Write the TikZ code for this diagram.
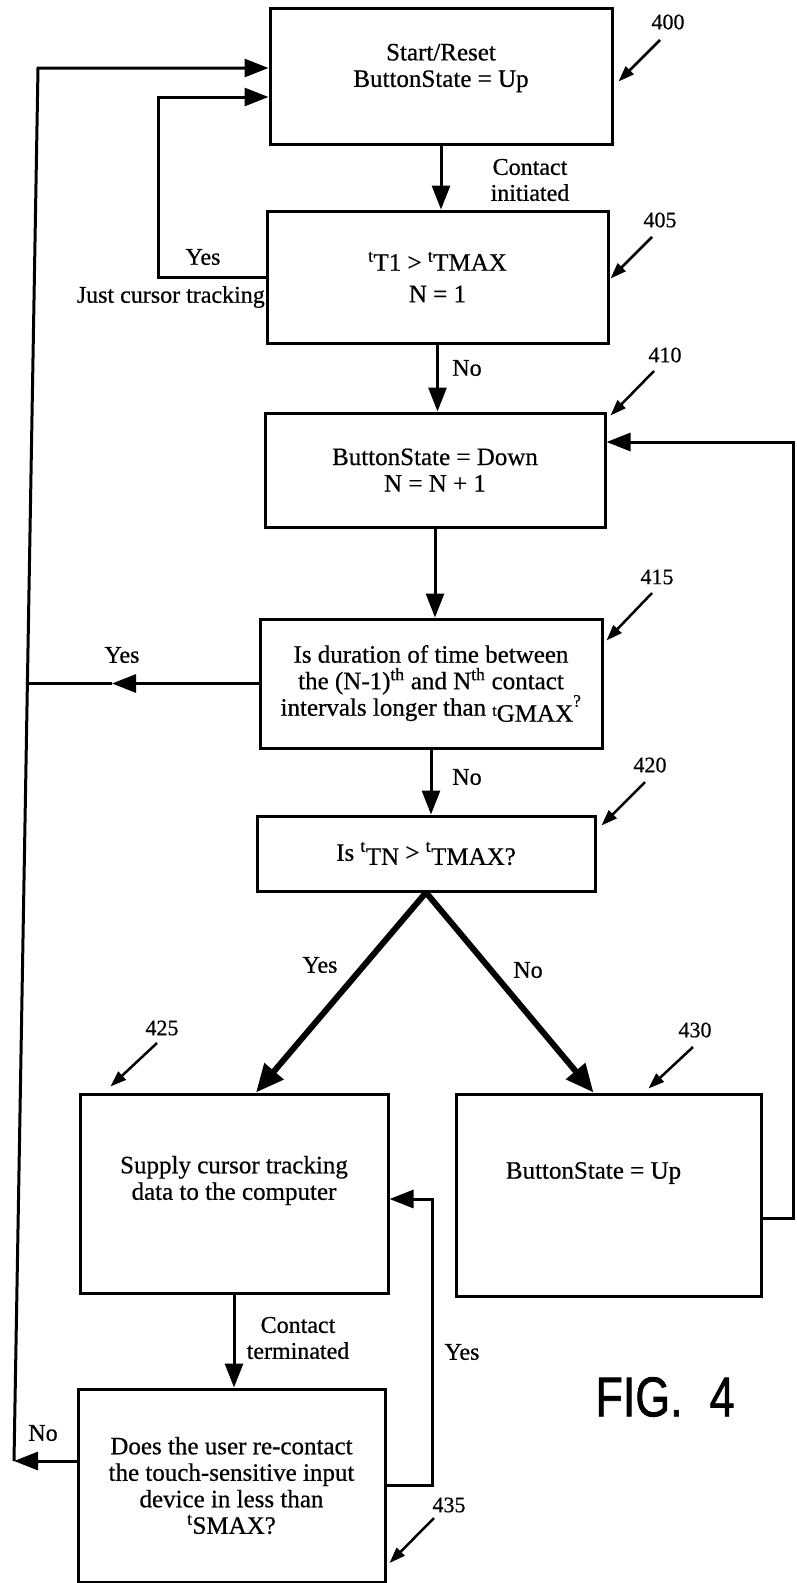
\documentclass[tikz,border=0pt]{standalone}
\usepackage{fontspec}
\setmainfont{Liberation Serif}[FakeBold=0.6]
\newfontfamily\figfont{Liberation Sans}[FakeBold=1.5]
\usepackage{graphicx}
\usetikzlibrary{arrows.meta,calc}
\newcommand\bxf{\fontsize{25}{26.5}\selectfont}
\newcommand\lbf{\fontsize{24}{26}\selectfont}
\newcommand\nmf{\fontsize{22}{22}\selectfont}
\tikzset{
  box/.style={draw, line width=3pt, inner sep=0pt, align=center, font=\bxf},
  boxtxt/.style={align=center, font=\bxf, inner sep=0pt},
  conn/.style={line width=3pt},
  arr/.style={conn, -{Triangle[length=24pt,width=18pt]}},
  thickarr/.style={line width=6pt, -{Triangle[length=28pt,width=24pt]}},
  lead/.style={line width=2.5pt, -{Triangle[length=16pt,width=11pt]}},
  lbl/.style={font=\lbf, inner sep=0pt, align=center},
  num/.style={font=\nmf, inner sep=0pt}
}
\begin{document}
\begin{tikzpicture}[x=1pt,y=-1pt]
\useasboundingbox (0,0) rectangle (796,1583);

% boxes
\node[box, minimum width=342pt, minimum height=136pt,
  label={[boxtxt,yshift=8pt]center:{Start/Reset\\ButtonState = Up}}] (b400) at (441,76) {};
\node[box, minimum width=341pt, minimum height=132pt] (b405) at (437.5,277)
  {\textsuperscript{t}T1 > \textsuperscript{t}TMAX\\[5pt]N = 1};
\node[box, minimum width=340pt, minimum height=114pt] (b410) at (435,470)
  {ButtonState = Down\\N = N + 1};
\node[box, minimum width=342pt, minimum height=129pt] (b415) at (431,683.5)
  {Is duration of time between\\the (N-1)\textsuperscript{th} and N\textsuperscript{th} contact\\intervals longer than {\fontsize{16}{16}\selectfont t}\raisebox{-6pt}{GMAX}\textsuperscript{?}};
\node[box, minimum width=338pt, minimum height=75pt] (b420) at (426,853.5)
  {Is \textsuperscript{t}\raisebox{-4pt}{TN} > \textsuperscript{t}\raisebox{-4pt}{TMAX?}};
\node[box, minimum width=308pt, minimum height=199pt,
  label={[boxtxt,yshift=13pt]center:{Supply cursor tracking\\data to the computer}}] (b425) at (234,1193.5) {};
\node[box, minimum width=305pt, minimum height=202pt,
  label={[boxtxt,xshift=-15pt,yshift=22pt]center:{ButtonState = Up}}] (b430) at (608.5,1195) {};
\node[box, minimum width=307pt, minimum height=193pt] (b435) at (231.5,1485.5)
  {Does the user re-contact\\the touch-sensitive input\\device in less than\\\textsuperscript{t}SMAX?};

% straight down connectors
\draw[arr] (b400.south) -- (b400.south |- b405.north);
\draw[arr] (b405.south) -- (b405.south |- b410.north);
\draw[arr] (b410.south) -- (b410.south |- b415.north);
\draw[arr] (b415.south) -- (b415.south |- b420.north);
\draw[arr] (b425.south) -- (b425.south |- b435.north);

% diagonal connectors
\draw[thickarr] (b420.south) -- ($(b425.north)+(22,0)$);
\draw[thickarr] (b420.south) -- ($(b430.north)+(-15,0)$);

% inner loop (just cursor tracking)
\draw[arr] (b405.west) -| ($(b400.west)+(-110,21)$) -- ($(b400.west)+(0,21)$);

% outer loop
\coordinate (cBL) at (14,1461);
\coordinate (cTL) at (38,68);
\draw[arr] ($(b435.west)+(0,-24.5)$) -- (cBL);
\draw[arr] (cBL) -- (cTL) -- ($(b400.west)+(0,-8)$);

% 415 yes branch joining outer loop
\coordinate (cYm) at (112,683.5);
\coordinate (cYj) at (27.4,683.5);
\draw[arr] (b415.west) -- (cYm);
\draw[conn] (cYm) -- (cYj);

% right loop 430 -> 410
\coordinate (cR1) at (793,1218);
\coordinate (cR2) at (793,442);
\draw[arr] ($(b430.east)+(0,23)$) -- (cR1) -- (cR2) -- ($(b410.east)+(0,-28)$);

% yes loop 435 -> 425
\coordinate (cY1) at (432,1485.5);
\coordinate (cY2) at (432,1199);
\draw[arr] (b435.east) -- (cY1) -- (cY2) -- ($(b425.east)+(0,5.5)$);

% connector labels
\node[lbl] (tCI) at (530,180) {Contact\\initiated};
\node[lbl] (tNo1) at (467,368) {No};
\node[lbl] (tYes1) at (203,257) {Yes};
\node[lbl, anchor=east] (tJust) at (265,297) {Just cursor tracking};
\node[lbl] (tYes2) at (122,655) {Yes};
\node[lbl] (tNo2) at (467,777) {No};
\node[lbl] (tYes3) at (320,965) {Yes};
\node[lbl] (tNo3) at (528,970) {No};
\node[lbl] (tCT) at (298,1338) {Contact\\terminated};
\node[lbl] (tYes4) at (462,1352) {Yes};
\node[lbl] (tNo4) at (43,1433) {No};

% reference numerals
\node[num] (n400) at (668,22) {400};
\node[num] (n405) at (660,220) {405};
\node[num] (n410) at (665,355) {410};
\node[num] (n415) at (657,577) {415};
\node[num] (n420) at (650,765) {420};
\node[num] (n425) at (162,1028) {425};
\node[num] (n430) at (695,1030) {430};
\node[num] (n435) at (449,1505) {435};
\draw[lead] ($(n400)+(-8,18)$) -- ($(b400.north east)+(5,75)$);
\draw[lead] ($(n405)+(-8,17)$) -- ($(b405.north east)+(1,69)$);
\draw[lead] ($(n410)+(-11,16)$) -- ($(b410.north east)+(4,4)$);
\draw[lead] ($(n415)+(-5,16)$) -- ($(b415.north east)+(3,23)$);
\draw[lead] ($(n420)+(-5,17)$) -- ($(b420.north east)+(5,11)$);
\draw[lead] ($(n425)+(-5,15)$) -- ($(b425.north west)+(32,-6)$);
\draw[lead] ($(n430)+(-2,17)$) -- ($(b430.north west)+(194,-4)$);
\draw[lead] ($(n435)+(-15,13)$) -- ($(b435.east)+(3,77.5)$);

% figure caption
\node[inner sep=0pt, font=\figfont\fontsize{56}{56}\selectfont] (fig) at (665,1397) {\scalebox{0.8}[1]{FIG.\hspace{0.6em}4}};
\end{tikzpicture}
\end{document}
